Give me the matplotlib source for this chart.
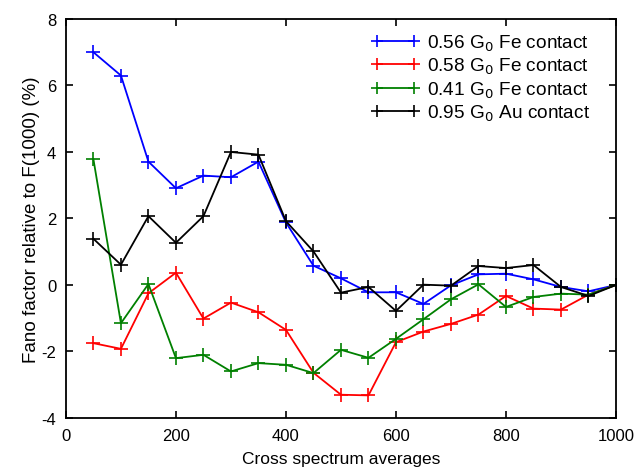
import numpy as np
import matplotlib
matplotlib.use("Agg")
import matplotlib.pyplot as plt

plt.rcParams['font.family'] = ['Liberation Sans', 'DejaVu Sans']
plt.rcParams['axes.unicode_minus'] = False

averages = [50, 100, 150, 200, 250, 300, 350, 400, 450, 500,
            550, 600, 650, 700, 750, 800, 850, 900, 950, 1000]

fe_056 = [7.0, 6.3, 3.71, 2.91, 3.29, 3.24, 3.71, 1.88, 0.58, 0.2,
          -0.22, -0.22, -0.57, -0.01, 0.32, 0.34, 0.17, -0.06, -0.19, 0.0]
fe_058 = [-1.75, -1.92, -0.25, 0.37, -1.01, -0.53, -0.82, -1.35, -2.64, -3.3,
          -3.32, -1.72, -1.4, -1.17, -0.89, -0.33, -0.71, -0.74, -0.29, 0.0]
fe_041 = [3.78, -1.15, 0.03, -2.2, -2.1, -2.6, -2.35, -2.4, -2.65, -1.95,
          -2.19, -1.62, -1.03, -0.43, 0.02, -0.66, -0.36, -0.26, -0.29, 0.0]
au_095 = [1.39, 0.61, 2.07, 1.27, 2.07, 4.0, 3.92, 1.92, 1.01, -0.23,
          -0.06, -0.78, 0.01, -0.02, 0.57, 0.51, 0.6, -0.06, -0.33, 0.0]

labels = ['0.56 G$_0$ Fe contact', '0.58 G$_0$ Fe contact',
          '0.41 G$_0$ Fe contact', '0.95 G$_0$ Au contact']
colors = ['#0000ff', '#ff0000', '#008000', '#000000']

fig = plt.figure(figsize=(6.4, 4.77), dpi=100)
ax = fig.add_axes([0.103, 0.1216, 0.8595, 0.8365])

for y, lab, c in zip([fe_056, fe_058, fe_041, au_095], labels, colors):
    ax.plot(averages, y, color=c, lw=1.3, marker='+', ms=10, mew=1.2, label=lab)

ax.set_xlim(0, 1000)
ax.set_ylim(-4, 8)
ax.set_xticks(np.arange(0, 1001, 200))
ax.set_yticks(np.arange(-4, 9, 2))
ax.tick_params(direction='in', top=True, right=True, length=5, width=1.2,
               labelsize=12, pad=7)
for s in ax.spines.values():
    s.set_linewidth(1.3)

ax.set_xlabel('Cross spectrum averages', fontsize=12.5, labelpad=6)
ax.set_ylabel('Fano factor relative to F(1000) (%)', fontsize=13.5, labelpad=1)

# legend without frame, placed like the original
ax.legend(loc='upper left', bbox_to_anchor=(371 / 640, 1 - 34 / 477),
          bbox_transform=fig.transFigure, fontsize=13.7, numpoints=2,
          frameon=False, handlelength=2.55, handletextpad=0.37,
          borderpad=0, borderaxespad=0, labelspacing=0.15, markerscale=0.8)

fig.savefig('out.png', dpi=100)
